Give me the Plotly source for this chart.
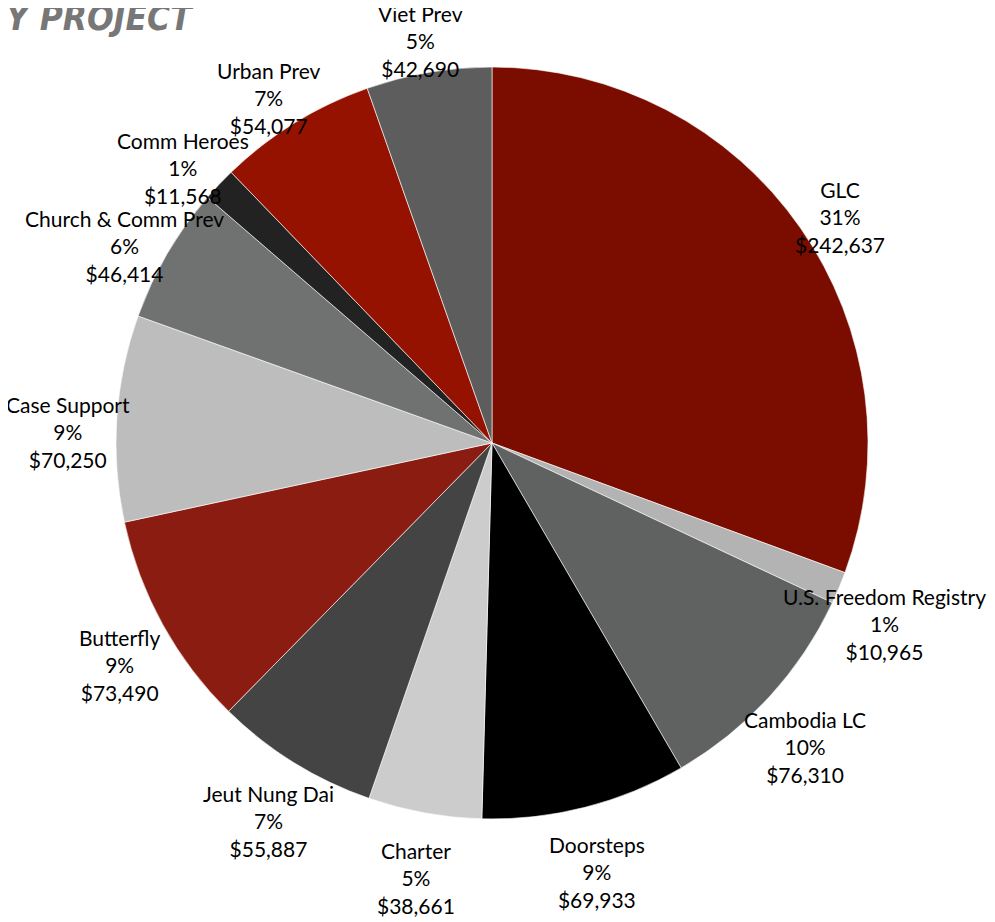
import math
import plotly.graph_objects as go

labels = ["GLC", "U.S. Freedom Registry", "Cambodia LC", "Doorsteps", "Charter",
          "Jeut Nung Dai", "Butterfly", "Case Support", "Church & Comm Prev",
          "Comm Heroes", "Urban Prev", "Viet Prev"]
values = [242637, 10965, 76310, 69933, 38661, 55887, 73490, 70250, 46414,
          11568, 54077, 42690]
colors = ["#7B0C00", "#B3B3B3", "#5F6261", "#000000", "#CCCCCC", "#444444",
          "#8B1C12", "#BDBDBD", "#6F7271", "#222222", "#961200", "#5D5D5D"]

W, H = 995, 922
cx, cy, r = 484, 435, 376

fig = go.Figure(go.Pie(
    labels=labels, values=values, sort=False, direction="clockwise", rotation=0,
    marker=dict(colors=colors, line=dict(color="white", width=0.6)),
    textinfo="none", hoverinfo="label+percent+value",
    hole=0, showlegend=False,
    domain=dict(x=[(cx - r) / W, (cx + r) / W], y=[(H - cy - r) / H, (H - cy + r) / H]),
))

# data labels placed along each slice's mid-angle, just beyond the rim
total = sum(values)
cum = 0
for lab, v in zip(labels, values):
    mid = (cum + v / 2) / total * 2 * math.pi
    cum += v
    px = cx + math.sin(mid) * 425
    py = cy - math.cos(mid) * 425 + 17
    pct = round(v / total * 100)
    fig.add_annotation(
        text=f"{lab}<br>{pct}%<br>${v:,}",
        x=px / W, y=1 - py / H, xref="paper", yref="paper",
        xanchor="center", yanchor="middle", showarrow=False,
        font=dict(family="Lato", size=21, color="black"))

fig.add_annotation(text="<b><i>Y PROJECT</i></b>", x=-0.004, y=1.0, xref="paper", yref="paper",
                   xanchor="left", yanchor="top", yshift=12, showarrow=False,
                   font=dict(family="DejaVu Sans Condensed", size=35, color="#777777"))

fig.update_layout(width=W, height=H, margin=dict(l=0, r=0, t=0, b=0),
                  paper_bgcolor="white", plot_bgcolor="white")
fig.write_html("out.html")
